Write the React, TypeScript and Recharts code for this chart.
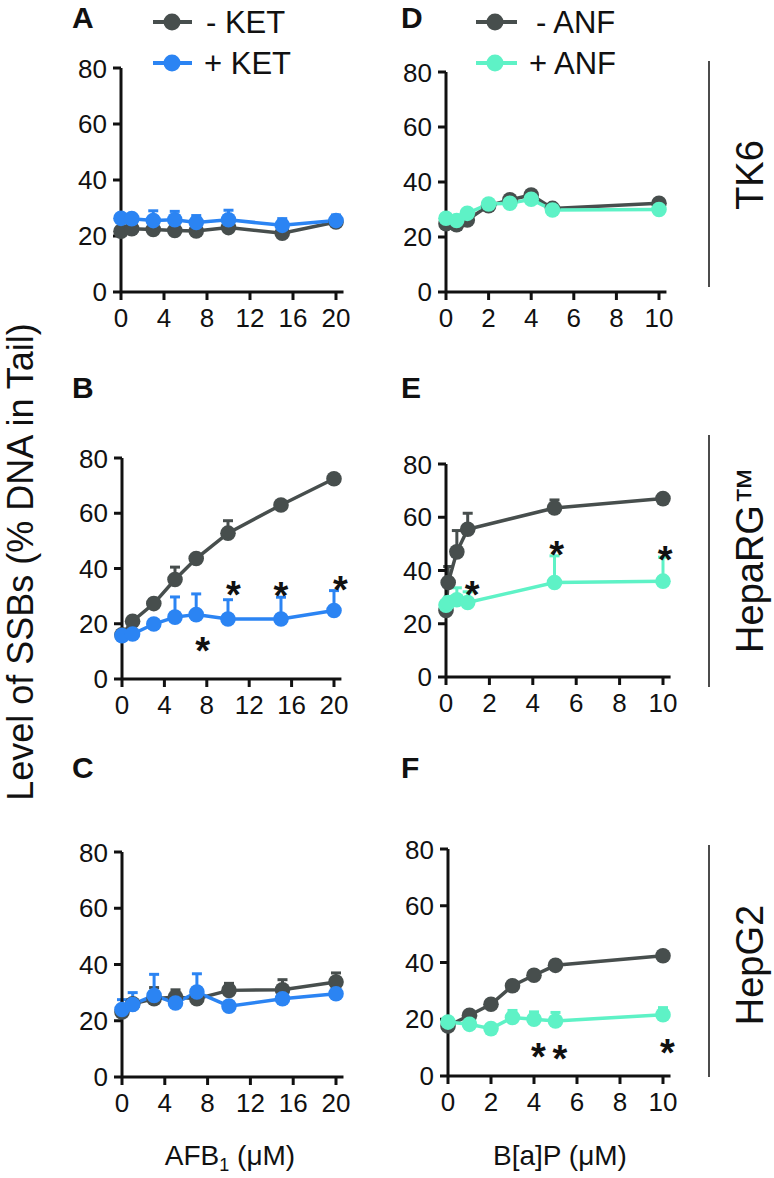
import React from "react";
import { ComposedChart, ErrorBar, Line, XAxis, YAxis } from "recharts";

const DARK = "#474e4d";
const BLUE = "#2b84f3";
const MINT = "#5ef2c6";
const FONT = "'Liberation Sans', Arial, Helvetica, sans-serif";

// doses
const afbDoses = [0, 1, 3, 5, 7, 10, 15, 20];
const bapDosesTk6 = [0, 0.5, 1, 2, 3, 4, 5, 10];
const bapDosesHepaRG = [0, 0.1, 0.5, 1, 5, 10];
const bapDosesHepG2 = [0, 1, 2, 3, 4, 5, 10];

const afbTicks = [0, 4, 8, 12, 16, 20];
const bapTicks = [0, 2, 4, 6, 8, 10];
const yTicks = [0, 20, 40, 60, 80];

// A - TK6, AFB1 +/- KET
const tk6MinusKet = [21.7, 22.6, 22.3, 22.0, 21.8, 23.0, 21.0, 25.0];
const tk6MinusKetErr = [0.8, 0.8, 0.8, 0.8, 0.8, 1, 0.8, 1];
const tk6PlusKet = [26.3, 26.2, 25.5, 25.8, 24.8, 25.8, 23.8, 25.5];
const tk6PlusKetErr = [0.8, 1.2, 3.5, 3, 2.5, 3.4, 2.4, 2];

// B - HepaRG, AFB1 +/- KET
const hepaRGMinusKet = [16.0, 20.9, 27.3, 36.0, 43.6, 52.8, 63.0, 72.5];
const hepaRGMinusKetErr = [0.5, 1, 1, 4.5, 1, 4.5, 1, 1.5];
const hepaRGPlusKet = [15.7, 16.3, 19.9, 22.4, 23.3, 21.7, 21.7, 24.8];
const hepaRGPlusKetErr = [0.5, 0.5, 0.8, 7.3, 7.5, 7, 7.9, 7.2];
const hepaRGKetStarX = [7.6, 10.5, 15.0, 20.6];
const hepaRGKetStarY = [13, 33.2, 33, 35];

// C - HepG2, AFB1 +/- KET
const hepG2MinusKet = [23.1, 26.0, 27.8, 28.4, 27.8, 30.8, 31.0, 33.8];
const hepG2MinusKetErr = [1, 1.5, 4, 2.6, 4, 2.5, 3.6, 3.2];
const hepG2PlusKet = [24.0, 25.8, 29.0, 26.3, 30.2, 25.2, 27.8, 29.6];
const hepG2PlusKetErr = [3.5, 4.2, 7.5, 2, 6.5, 1, 1, 1];

// D - TK6, B[a]P +/- ANF
const tk6MinusAnf = [24.8, 24.5, 26.2, 31.4, 33.5, 35.3, 30.4, 32.3];
const tk6MinusAnfErr = [1, 1, 1, 1, 1, 1.5, 1, 1];
const tk6PlusAnf = [26.8, 26.0, 28.6, 32.0, 32.3, 33.7, 29.8, 30.0];
const tk6PlusAnfErr = [1, 1, 1, 1, 1, 1, 1, 1];

// E - HepaRG, B[a]P +/- ANF
const hepaRGMinusAnf = [25.0, 35.5, 47.0, 55.5, 63.5, 67.0];
const hepaRGMinusAnfErr = [1, 6, 8, 6, 3, 1.5];
const hepaRGPlusAnf = [27.0, 28.0, 29.0, 28.0, 35.5, 36.0];
const hepaRGPlusAnfErr = [1, 2, 4.5, 4, 10, 9];
const hepaRGAnfStarX = [1.2, 5.1, 10.1];
const hepaRGAnfStarY = [33.9, 49, 47];

// F - HepG2, B[a]P +/- ANF
const hepG2MinusAnf = [17.6, 21.4, 25.3, 31.8, 35.5, 39.0, 42.4];
const hepG2MinusAnfErr = [0.5, 1, 1, 1.2, 1.5, 1.5, 1];
const hepG2PlusAnf = [19.0, 18.2, 16.7, 20.6, 20.0, 19.4, 21.6];
const hepG2PlusAnfErr = [0.5, 0.5, 0.5, 2.5, 2.6, 3, 2.5];
const hepG2AnfStarX = [4.2, 5.2, 10.2];
const hepG2AnfStarY = [9.6, 8.8, 11];

type Pt = { x: number; y: number; err?: number[] };

const zip = (xs: number[], ys: number[], errs?: number[]): Pt[] =>
  xs.map((x, i) => ({ x, y: ys[i], err: errs ? [0, errs[i]] : undefined }));

type Frame = { x0: number; xEnd: number; lastTick: number; y80: number; y0: number };

function Star(props: any) {
  const { cx, cy, index } = props;
  if (cx == null || cy == null) return null;
  return (
    <text
      key={`star-${index}`}
      x={cx}
      y={cy + 21}
      textAnchor="middle"
      fontSize={38}
      fontWeight="bold"
      fontFamily={FONT}
      fill="#111"
    >
      *
    </text>
  );
}

function Panel({
  frame,
  xMax,
  xTicks,
  series,
  stars,
}: {
  frame: Frame;
  xMax: number;
  xTicks: number[];
  series: { data: Pt[]; color: string }[];
  stars?: Pt[];
}) {
  const { x0, xEnd, lastTick, y80, y0 } = frame;
  const plotW = ((xEnd - x0) / lastTick) * xMax;
  const plotH = y0 - y80;
  const padL = 70;
  const padT = 14;
  const padR = 20;
  const padB = 50;
  const tickStyle = { fontSize: 26, fill: "#111", fontFamily: FONT };
  return (
    <div style={{ position: "absolute", left: x0 - padL, top: y80 - padT }}>
      <ComposedChart
        width={plotW + padL + padR}
        height={plotH + padT + padB}
        margin={{ top: padT, right: padR, left: 0, bottom: 0 }}
        style={{ overflow: "visible" }}
      >
        <XAxis
          type="number"
          dataKey="x"
          domain={[0, xMax]}
          ticks={xTicks}
          height={padB}
          tickSize={8}
          tickMargin={9}
          tick={tickStyle}
          axisLine={{ stroke: "#111", strokeWidth: 3 }}
          tickLine={{ stroke: "#111", strokeWidth: 3 }}
        />
        <YAxis
          type="number"
          domain={[0, 80]}
          ticks={yTicks}
          width={padL}
          tickSize={8}
          tickMargin={6}
          tick={tickStyle}
          axisLine={{ stroke: "#111", strokeWidth: 3 }}
          tickLine={{ stroke: "#111", strokeWidth: 3 }}
        />
        {series.map((s, i) => (
          <Line
            key={i}
            data={s.data}
            dataKey="y"
            stroke={s.color}
            strokeWidth={3.5}
            dot={{ r: 7.8, fill: s.color, stroke: s.color, strokeWidth: 0 }}
            activeDot={false}
            isAnimationActive={false}
          >
            <ErrorBar dataKey="err" direction="y" width={5} stroke={s.color} strokeWidth={3} />
          </Line>
        ))}
        {stars && (
          <Line
            data={stars}
            dataKey="y"
            stroke="none"
            dot={Star}
            activeDot={false}
            isAnimationActive={false}
          />
        )}
      </ComposedChart>
    </div>
  );
}

function Overlay() {
  const t = { fontFamily: FONT, fill: "#111" };
  return (
    <svg
      width={774}
      height={1178}
      style={{ position: "absolute", left: 0, top: 0, pointerEvents: "none" }}
    >
      {/* panel letters */}
      {[
        ["A", 72, 28],
        ["B", 72, 398],
        ["C", 72, 778],
        ["D", 401, 28],
        ["E", 401, 398],
        ["F", 401, 778],
      ].map(([l, x, y]) => (
        <text key={l as string} x={x as number} y={y as number} fontSize={30} fontWeight="bold" {...t}>
          {l}
        </text>
      ))}

      {/* legends */}
      <line x1={153} y1={22} x2={192} y2={22} stroke={DARK} strokeWidth={4} />
      <circle cx={172} cy={22} r={8.5} fill={DARK} />
      <text x={206} y={33} fontSize={31} {...t}>- KET</text>
      <line x1={153} y1={63} x2={192} y2={63} stroke={BLUE} strokeWidth={4} />
      <circle cx={172} cy={63} r={8.5} fill={BLUE} />
      <text x={204} y={74} fontSize={31} {...t}>+ KET</text>

      <line x1={476} y1={22} x2={517} y2={22} stroke={DARK} strokeWidth={4} />
      <circle cx={495} cy={22} r={8.5} fill={DARK} />
      <text x={536} y={33} fontSize={31} {...t}>- ANF</text>
      <line x1={476} y1={63} x2={517} y2={63} stroke={MINT} strokeWidth={4} />
      <circle cx={495} cy={63} r={8.5} fill={MINT} />
      <text x={529} y={74} fontSize={31} {...t}>+ ANF</text>

      {/* y label */}
      <text transform="translate(33,562) rotate(-90)" textAnchor="middle" fontSize={36} {...t}>
        Level of SSBs (% DNA in Tail)
      </text>

      {/* x labels */}
      <text x={230} y={1165} textAnchor="middle" fontSize={28} {...t}>
        AFB<tspan fontSize={18} dy={6}>1</tspan>
        <tspan dy={-6}> (μM)</tspan>
      </text>
      <text x={560} y={1165} textAnchor="middle" fontSize={28} {...t}>
        B[a]P (μM)
      </text>

      {/* cell line labels */}
      <line x1={709} y1={61} x2={709} y2={287} stroke="#111" strokeWidth={1.5} />
      <line x1={709} y1={435} x2={709} y2={687} stroke="#111" strokeWidth={1.5} />
      <line x1={709} y1={845} x2={709} y2={1077} stroke="#111" strokeWidth={1.5} />
      <text transform="translate(763,175) rotate(-90)" textAnchor="middle" fontSize={38} {...t}>
        TK6
      </text>
      <text transform="translate(763,560) rotate(-90)" textAnchor="middle" fontSize={38} {...t}>
        HepaRG™
      </text>
      <text transform="translate(763,965) rotate(-90)" textAnchor="middle" fontSize={38} {...t}>
        HepG2
      </text>
    </svg>
  );
}

export default function App() {
  return (
    <div
      style={{
        position: "absolute",
        left: 0,
        top: 0,
        width: 774,
        height: 1178,
        background: "#fff",
        fontFamily: FONT,
      }}
    >
      <Overlay />
      <Panel
        frame={{ x0: 121, xEnd: 336, lastTick: 20, y80: 68, y0: 292 }}
        xMax={20.7}
        xTicks={afbTicks}
        series={[
          { data: zip(afbDoses, tk6MinusKet, tk6MinusKetErr), color: DARK },
          { data: zip(afbDoses, tk6PlusKet, tk6PlusKetErr), color: BLUE },
        ]}
      />
      <Panel
        frame={{ x0: 122, xEnd: 334, lastTick: 20, y80: 458, y0: 679 }}
        xMax={20.7}
        xTicks={afbTicks}
        series={[
          { data: zip(afbDoses, hepaRGMinusKet, hepaRGMinusKetErr), color: DARK },
          { data: zip(afbDoses, hepaRGPlusKet, hepaRGPlusKetErr), color: BLUE },
        ]}
        stars={zip(hepaRGKetStarX, hepaRGKetStarY)}
      />
      <Panel
        frame={{ x0: 122, xEnd: 336, lastTick: 20, y80: 852, y0: 1077 }}
        xMax={20.7}
        xTicks={afbTicks}
        series={[
          { data: zip(afbDoses, hepG2MinusKet, hepG2MinusKetErr), color: DARK },
          { data: zip(afbDoses, hepG2PlusKet, hepG2PlusKetErr), color: BLUE },
        ]}
      />
      <Panel
        frame={{ x0: 446, xEnd: 659, lastTick: 10, y80: 72, y0: 292 }}
        xMax={10.35}
        xTicks={bapTicks}
        series={[
          { data: zip(bapDosesTk6, tk6MinusAnf, tk6MinusAnfErr), color: DARK },
          { data: zip(bapDosesTk6, tk6PlusAnf, tk6PlusAnfErr), color: MINT },
        ]}
      />
      <Panel
        frame={{ x0: 446, xEnd: 663, lastTick: 10, y80: 464, y0: 677 }}
        xMax={10.35}
        xTicks={bapTicks}
        series={[
          { data: zip(bapDosesHepaRG, hepaRGMinusAnf, hepaRGMinusAnfErr), color: DARK },
          { data: zip(bapDosesHepaRG, hepaRGPlusAnf, hepaRGPlusAnfErr), color: MINT },
        ]}
        stars={zip(hepaRGAnfStarX, hepaRGAnfStarY)}
      />
      <Panel
        frame={{ x0: 448, xEnd: 663, lastTick: 10, y80: 849, y0: 1076 }}
        xMax={10.35}
        xTicks={bapTicks}
        series={[
          { data: zip(bapDosesHepG2, hepG2MinusAnf, hepG2MinusAnfErr), color: DARK },
          { data: zip(bapDosesHepG2, hepG2PlusAnf, hepG2PlusAnfErr), color: MINT },
        ]}
        stars={zip(hepG2AnfStarX, hepG2AnfStarY)}
      />
    </div>
  );
}
